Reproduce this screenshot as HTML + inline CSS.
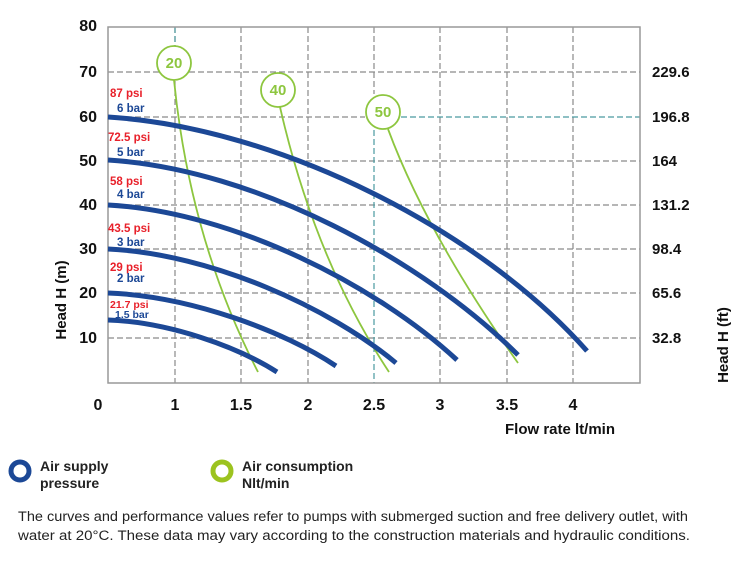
<!DOCTYPE html>
<html><head><meta charset="utf-8"><style>
body{margin:0;background:#fff;width:750px;height:562px;overflow:hidden;font-family:"Liberation Sans",Arial,sans-serif}
</style></head><body>
<svg width="750" height="562" viewBox="0 0 750 562" xmlns="http://www.w3.org/2000/svg" font-family="Liberation Sans, Arial, sans-serif">
<g stroke="#8a8a8a" stroke-width="1.2" stroke-dasharray="6,3" fill="none">
<line x1="175" y1="27" x2="175" y2="383"/><line x1="241" y1="27" x2="241" y2="383"/><line x1="308" y1="27" x2="308" y2="383"/>
<line x1="440" y1="27" x2="440" y2="383"/><line x1="507" y1="27" x2="507" y2="383"/><line x1="573" y1="27" x2="573" y2="383"/>
<line x1="108" y1="72" x2="640" y2="72"/><line x1="108" y1="161" x2="640" y2="161"/>
<line x1="108" y1="205" x2="640" y2="205"/><line x1="108" y1="249" x2="640" y2="249"/><line x1="108" y1="293" x2="640" y2="293"/><line x1="108" y1="338" x2="640" y2="338"/>
<line x1="108" y1="117" x2="365" y2="117"/><line x1="374" y1="27" x2="374" y2="94"/>
</g>
<g stroke="#4a9aa0" stroke-width="1.2" stroke-dasharray="6,3" fill="none">
<line x1="175" y1="27" x2="175" y2="46"/><line x1="401" y1="117" x2="640" y2="117"/><line x1="374" y1="130" x2="374" y2="383"/>
</g>
<rect x="108" y="27" width="532" height="356" fill="none" stroke="#999" stroke-width="1.5"/>
<g fill="none" stroke="#8dc63f" stroke-width="1.8">
<path d="M174,80 Q190,240 258,372"/>
<path d="M280,107 Q315,260 389,372"/>
<path d="M388,129 Q427,234 518,363"/>
</g>
<g fill="none" stroke="#1c4896" stroke-width="5">
<path d="M108,117 C280,128 480,230 587,351"/>
<path d="M108,160 C256,169 424,261 518,355"/>
<path d="M108,205 C234,212 377,286 457,360"/>
<path d="M108,249 C212,254 330,308 396,363"/>
<path d="M108,293 C190,296 284,331 336,366"/>
<path d="M108,320 C169,322 238,347 277,372"/>
</g>
<g fill="#fff" stroke="#8dc63f" stroke-width="1.8">
<circle cx="174" cy="63" r="17"/><circle cx="278" cy="90" r="17"/><circle cx="383" cy="112" r="17"/>
</g>
<g fill="#8dc63f" font-weight="bold" font-size="15" text-anchor="middle">
<text x="174" y="68">20</text><text x="278" y="95">40</text><text x="383" y="117">50</text>
</g>
<g font-weight="bold" font-size="16" text-anchor="end" fill="#111">
<text x="97" y="31">80</text><text x="97" y="77">70</text><text x="97" y="122">60</text><text x="97" y="166">50</text>
<text x="97" y="210">40</text><text x="97" y="254">30</text><text x="97" y="298">20</text><text x="97" y="343">10</text>
</g>
<g font-weight="bold" font-size="15" fill="#111">
<text x="652" y="77">229.6</text><text x="652" y="122">196.8</text><text x="652" y="166">164</text><text x="652" y="210">131.2</text>
<text x="652" y="254">98.4</text><text x="652" y="298">65.6</text><text x="652" y="343">32.8</text>
</g>
<g font-weight="bold" font-size="16" text-anchor="middle" fill="#111">
<text x="98" y="410">0</text><text x="175" y="410">1</text><text x="241" y="410">1.5</text><text x="308" y="410">2</text>
<text x="374" y="410">2.5</text><text x="440" y="410">3</text><text x="507" y="410">3.5</text><text x="573" y="410">4</text>
</g>
<text x="505" y="434" font-weight="bold" font-size="15" fill="#111">Flow rate  lt/min</text>
<text transform="translate(66,300) rotate(-90)" text-anchor="middle" font-weight="bold" font-size="15" fill="#111">Head H (m)</text>
<text transform="translate(728,345) rotate(-90)" text-anchor="middle" font-weight="bold" font-size="15" fill="#111">Head H (ft)</text>
<g font-weight="bold" font-size="11.5" fill="#e8202a">
<text x="110" y="97">87 psi</text><text x="108" y="141">72.5 psi</text><text x="110" y="185">58 psi</text>
<text x="108" y="232">43.5 psi</text><text x="110" y="271">29 psi</text><text x="110" y="308" font-size="10.5">21.7 psi</text>
</g>
<g font-weight="bold" font-size="11.5" fill="#1c4896">
<text x="117" y="112">6 bar</text><text x="117" y="156">5 bar</text><text x="117" y="198">4 bar</text>
<text x="117" y="246">3 bar</text><text x="117" y="282">2 bar</text><text x="115" y="318" font-size="10.5">1.5 bar</text>
</g>
<circle cx="20" cy="471" r="9" fill="none" stroke="#1c4896" stroke-width="5"/>
<circle cx="222" cy="471" r="9" fill="none" stroke="#9cc31f" stroke-width="5"/>
<g font-weight="bold" font-size="14" fill="#222">
<text x="40" y="471">Air supply</text><text x="40" y="488">pressure</text>
<text x="242" y="471">Air consumption</text><text x="242" y="488">Nlt/min</text>
</g>
<g font-size="13.5" fill="#222">
<text x="18" y="521" textLength="670" lengthAdjust="spacingAndGlyphs">The curves and performance values refer to pumps with submerged suction and free delivery outlet, with</text>
<text x="18" y="540" textLength="672" lengthAdjust="spacingAndGlyphs">water at 20°C. These data may vary according to the construction materials and hydraulic conditions.</text>
</g>
</svg>
</body></html>
